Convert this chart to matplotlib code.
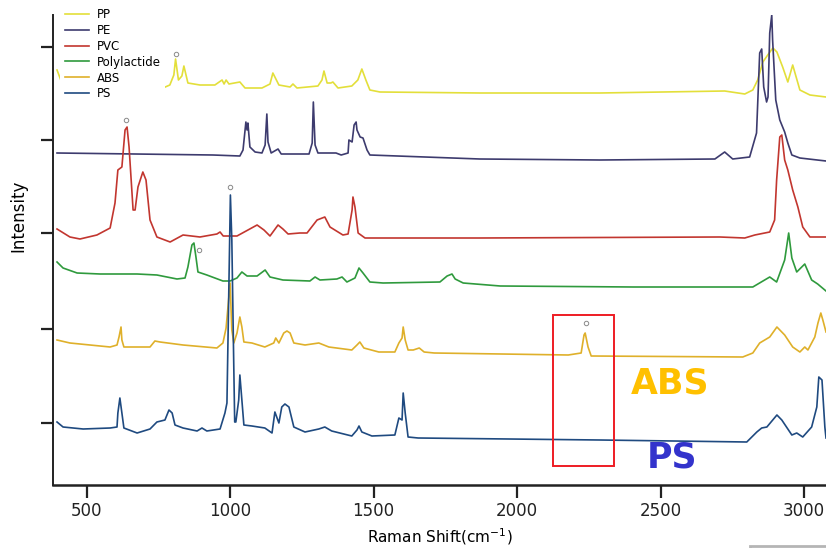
import matplotlib
matplotlib.use("Agg")
import matplotlib.pyplot as plt
from matplotlib.patches import Rectangle

# Raman spectra, stacked (intensity already includes the vertical offset, a.u.)
pp_shift = [397, 414, 500, 600, 700, 766, 790, 804, 810, 820, 832, 839, 853, 895, 947, 972, 979, 986,
            996, 1034, 1052, 1111, 1139, 1149, 1170, 1209, 1219, 1233, 1306, 1320, 1327, 1338, 1351,
            1358, 1376, 1424, 1445, 1459, 1473, 1487, 1522, 1870, 2288, 2723, 2793, 2821, 2838, 2856,
            2873, 2891, 2905, 2925, 2943, 2960, 2985, 3020, 3076]
pp_int = [415, 402, 399, 399, 398, 397, 400, 410, 426, 405, 409, 419, 402, 400, 400, 405, 401, 405,
          401, 403, 397, 397, 401, 412, 400, 398, 401, 397, 399, 405, 414, 402, 402,
          403, 397, 399, 405, 416, 405, 395, 393, 392, 392, 394, 391, 395, 405, 423,
          430, 437, 433, 418, 403, 420, 395, 390, 388]

pe_shift = [397, 940, 1034, 1045, 1055, 1059, 1062, 1069, 1087, 1111, 1122, 1128, 1132, 1143, 1167,
            1178, 1275, 1286, 1290, 1296, 1306, 1369, 1387, 1411, 1414, 1425, 1432, 1439, 1442, 1453,
            1463, 1477, 1487, 1870, 2288, 2689, 2723, 2751, 2810, 2834, 2845, 2852, 2859, 2869, 2874,
            2880, 2887, 2890, 2901, 2915, 2932, 2943, 2957, 2985, 3076]
pe_int = [332, 330, 329, 335, 363, 355, 362, 338, 333, 332, 340, 371, 343, 332, 336,
          331, 331, 342, 383, 340, 332, 332, 330, 332, 345, 343, 360, 363, 355, 348,
          347, 335, 330, 326, 325, 326, 333, 326, 328, 352, 432, 436, 398, 383, 388,
          452, 470, 445, 385, 365, 353, 342, 330, 327, 324]

pvc_shift = [397, 442, 477, 536, 582, 599, 609, 623, 634, 641, 648, 662, 669, 679, 696, 707, 721,
             745, 791, 836, 895, 954, 965, 976, 1024, 1094, 1118, 1139, 1167, 1184, 1202, 1243,
             1268, 1303, 1330, 1348, 1393, 1411, 1425, 1428, 1435, 1446, 1470, 1870, 2706, 2793,
             2828, 2880, 2897, 2904, 2915, 2922, 2932, 2943, 2960, 2978, 2995, 3020, 3076]
pvc_int = [256, 248, 246, 250, 257, 282, 315, 318, 355, 358, 338, 275, 275, 298, 313, 305, 265,
           248, 243, 250, 248, 251, 253, 249, 249, 260, 255, 249, 260, 256, 251, 252,
           252, 265, 268, 258, 250, 251, 275, 288, 278, 252, 247, 247, 248, 247,
           250, 253, 265, 305, 348, 350, 325, 315, 295, 278, 258, 248, 248]

pla_shift = [397, 418, 467, 547, 676, 745, 815, 843, 853, 867, 874, 881, 888, 919, 975, 1000, 1024,
             1041, 1059, 1094, 1122, 1139, 1184, 1278, 1296, 1313, 1372, 1390, 1407, 1435, 1449,
             1463, 1487, 1533, 1731, 1756, 1773, 1784, 1812, 1941, 2404, 2821, 2880, 2904, 2932,
             2946, 2957, 2974, 3002, 3026, 3047, 3076]
pla_int = [223, 217, 212, 211, 211, 210, 206, 207, 218, 240, 242, 228, 213, 210, 204, 204, 207,
           213, 209, 209, 215, 208, 205, 204, 208, 205, 206, 208, 203, 207, 217,
           212, 203, 202, 203, 209, 211, 206, 202, 199, 198, 198, 208, 203, 225,
           252, 227, 213, 221, 205, 201, 194]

abs_shift = [397, 442, 512, 582, 606, 613, 620, 623, 630, 721, 738, 756, 836, 954, 975, 986, 1000,
             1006, 1013, 1024, 1034, 1041, 1048, 1076, 1121, 1152, 1159, 1170, 1187, 1198, 1209,
             1222, 1261, 1309, 1344, 1424, 1442, 1452, 1466, 1518, 1574, 1588, 1599, 1603, 1610,
             1620, 1638, 1659, 1676, 1711, 2178, 2223, 2233, 2237, 2247, 2258, 2786, 2821, 2845,
             2880, 2905, 2932, 2960, 2985, 3002, 3013, 3037, 3048, 3058, 3065, 3076]
abs_int = [145, 142, 140, 138, 140, 148, 158, 145, 138, 138, 144, 143, 140, 137, 142, 157, 202,
           155, 142, 152, 168, 158, 143, 142, 138, 142, 147, 142, 152, 154, 152,
           142, 140, 142, 138, 135, 140, 143, 137, 133, 133, 142, 147, 158, 145,
           135, 135, 137, 133, 132, 130, 132, 150, 152, 138, 129, 128, 132, 142,
           148, 158, 150, 138, 133, 138, 135, 148, 162, 172, 165, 153]

ps_shift = [397, 418, 488, 582, 606, 609, 616, 623, 630, 676, 721, 745, 773, 787, 798, 808, 836,
            885, 902, 919, 965, 982, 989, 1001, 1006, 1013, 1016, 1020, 1030, 1034, 1041, 1048,
            1076, 1121, 1146, 1156, 1170, 1180, 1191, 1205, 1222, 1261, 1309, 1330, 1354, 1424,
            1442, 1449, 1459, 1494, 1574, 1588, 1599, 1603, 1610, 1620, 1655, 2288, 2800, 2835,
            2852, 2870, 2905, 2922, 2957, 2974, 2995, 3026, 3044, 3051, 3062, 3072, 3076]
ps_int = [63, 58, 56, 57, 58, 72, 87, 72, 57, 52, 56, 63, 65, 75, 72, 60, 57,
          54, 57, 54, 56, 72, 82, 290, 245, 115, 63, 63, 85, 110, 85, 60,
          59, 57, 52, 73, 62, 78, 81, 78, 58, 53, 56, 58, 54, 49,
          55, 59, 53, 49, 50, 67, 65, 92, 72, 48, 47, 45, 43, 53,
          57, 58, 70, 65, 50, 52, 48, 58, 78, 108, 105, 58, 47]

# small open circles marking the assigned bands
mark_shift = [810, 637, 1000, 892, 2240]
mark_int = [431, 365, 298, 235, 162]

# highlighted nitrile band region
box_shift = [2125, 2337]
box_int = [19, 170]

ytick_pos = [62, 156, 252, 345, 438]

fig = plt.figure(figsize=(8.26, 5.48), dpi=100)
ax = fig.add_axes([53 / 826, 63 / 548, 773 / 826, 470 / 548])

series = [("PP", pp_shift, pp_int, "#e3df3a"),
          ("PE", pe_shift, pe_int, "#3d3b6e"),
          ("PVC", pvc_shift, pvc_int, "#c2362f"),
          ("Polylactide", pla_shift, pla_int, "#2f9a3d"),
          ("ABS", abs_shift, abs_int, "#dfb02a"),
          ("PS", ps_shift, ps_int, "#1f4a80")]
for i, (name, xs, ys, col) in enumerate(series):
    ax.plot(xs, ys, color=col, lw=1.2, label=name, zorder=2 + i)

ax.plot(mark_shift, mark_int, ls="none", marker="o", ms=3.2, mfc="white",
        mec="#8a8a8a", mew=0.7, zorder=10)

ax.add_patch(Rectangle((box_shift[0], box_int[0]), box_shift[1] - box_shift[0],
                       box_int[1] - box_int[0], fill=False, ec="#ee1c24", lw=1.4, zorder=11))

ax.text(2532, 92, "ABS", color="#ffc000", fontsize=25, fontweight="bold",
        ha="center", va="baseline", zorder=12)
ax.text(2539, 17, "PS", color="#3333cc", fontsize=25, fontweight="bold",
        ha="center", va="baseline", zorder=12)

ax.set_xlim(383, 3076)
ax.set_ylim(0, 470)
ax.set_xticks([500, 1000, 1500, 2000, 2500, 3000])
ax.set_yticks(ytick_pos)
ax.set_yticklabels([])
ax.tick_params(axis="x", length=9, width=1.6, labelsize=12, pad=3, colors="#222222")
ax.tick_params(axis="y", length=9, width=1.6, colors="#222222")
for s in ["top", "right"]:
    ax.spines[s].set_visible(False)
ax.spines["left"].set_linewidth(1.4)
ax.spines["bottom"].set_linewidth(1.8)
ax.spines["left"].set_color("#222222")
ax.spines["bottom"].set_color("#222222")

ax.set_xlabel("Raman Shift(cm$^{-1}$)", fontsize=11, labelpad=5)
ax.set_ylabel("Intensity", fontsize=12)
ax.yaxis.set_label_coords(-0.033, 0.572)

leg = ax.legend(loc="upper left", bbox_to_anchor=(0.009, 1.0255), fontsize=8.5,
                frameon=True, fancybox=False, framealpha=1, edgecolor="none",
                borderaxespad=0, borderpad=0.4, labelspacing=0.25,
                handlelength=2.1, handletextpad=0.6)
leg.set_zorder(20)

# grey frame peeking in at the lower right corner of the screenshot
fig.patches.append(Rectangle((750 / 826, -0.01), 0.1, 7 / 548, transform=fig.transFigure,
                             fill=False, ec="#b5b5b5", lw=2))

plt.savefig("out.png", dpi=100)
